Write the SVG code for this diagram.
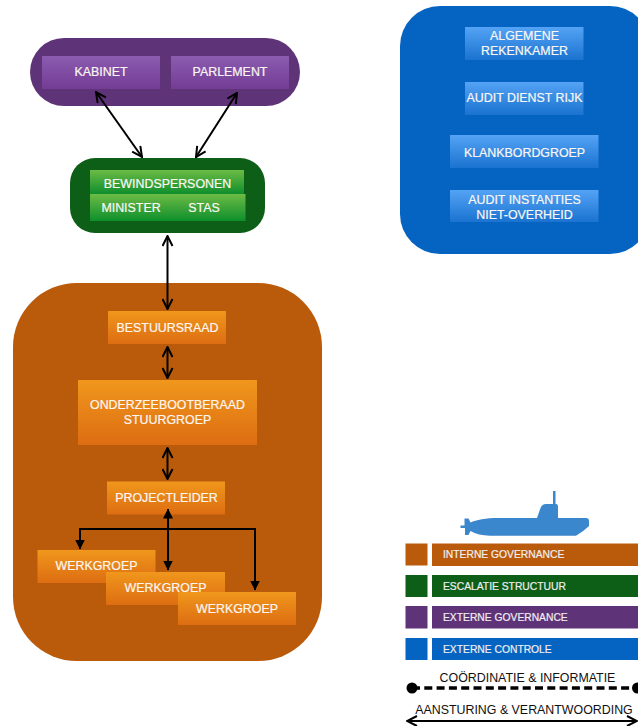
<svg xmlns="http://www.w3.org/2000/svg" width="638" height="726" viewBox="0 0 638 726">
<style>
text{font-family:"Liberation Sans",Arial,sans-serif;font-size:12.4px;fill:#fbf6f2;text-anchor:middle;stroke:#fbf6f2;stroke-width:.2px}
.l{font-size:10.300px;text-anchor:start;fill:#f0eef0;stroke:#f0eef0}
.k{font-size:12.400px;fill:#111;stroke:none}
.c{fill:none;stroke:#000;stroke-width:2}
.a{marker-start:url(#o);marker-end:url(#o)}
</style>
<defs>
<linearGradient id="go" x1="0" y1="0" x2="0" y2="1"><stop offset="0" stop-color="#f0971c"/><stop offset="1" stop-color="#dd6d12"/></linearGradient>
<linearGradient id="gg" x1="0" y1="0" x2="0" y2="1"><stop offset="0" stop-color="#6cbb45"/><stop offset="1" stop-color="#0e8f2c"/></linearGradient>
<linearGradient id="gp" x1="0" y1="0" x2="0" y2="1"><stop offset="0" stop-color="#8a5cb0"/><stop offset="1" stop-color="#743c94"/></linearGradient>
<linearGradient id="gb" x1="0" y1="0" x2="0" y2="1"><stop offset="0" stop-color="#54a3f5"/><stop offset="1" stop-color="#1a73d0"/></linearGradient>
<marker id="o" viewBox="0 0 12 12" refX="11" refY="6" markerWidth="12" markerHeight="12" markerUnits="userSpaceOnUse" orient="auto-start-reverse"><path d="M1 1L11 6L1 11" fill="none" stroke="#000" stroke-width="2"/></marker>
<marker id="f" viewBox="0 0 10 10" refX="9.5" refY="5" markerWidth="10" markerHeight="10" markerUnits="userSpaceOnUse" orient="auto-start-reverse"><path d="M0 0L10 5L0 10Z" fill="#000"/></marker>
</defs>
<g id="externe-governance"><rect x="30" y="38" width="270" height="68" rx="34" fill="#5f3378"/></g>
<g id="kabinet"><rect x="42" y="56" width="118" height="33" fill="url(#gp)"/><text x="101" y="76">KABINET</text></g>
<g id="parlement"><rect x="171" y="56" width="118" height="33" fill="url(#gp)"/><text x="230" y="76">PARLEMENT</text></g>
<g id="escalatie"><rect x="70" y="158" width="195" height="75" rx="25" fill="#0d5f18"/></g>
<g id="bewindspersonen"><rect x="90" y="170" width="154" height="24" fill="url(#gg)"/><text x="167.500" y="188">BEWINDSPERSONEN</text></g>
<g id="minister-stas"><rect x="90" y="194" width="155.500" height="27" fill="url(#gg)"/><text x="131" y="212">MINISTER</text><text x="204" y="212">STAS</text></g>
<g id="externe-controle"><rect x="400" y="6" width="250" height="248" rx="40" fill="#0563c1"/></g>
<g id="algemene-rekenkamer"><rect x="465" y="27" width="118.500" height="33" fill="url(#gb)"/><text x="524.500" y="40">ALGEMENE</text><text x="524.500" y="55">REKENKAMER</text></g>
<g id="audit-dienst-rijk"><rect x="465" y="82" width="118.500" height="33" fill="url(#gb)"/><text x="524.500" y="102">AUDIT DIENST RIJK</text></g>
<g id="klankbordgroep"><rect x="450" y="135" width="148.500" height="33" fill="url(#gb)"/><text x="524.500" y="157">KLANKBORDGROEP</text></g>
<g id="audit-instanties"><rect x="450" y="190" width="148.500" height="32" fill="url(#gb)"/><text x="524.500" y="204">AUDIT INSTANTIES</text><text x="524.500" y="219">NIET-OVERHEID</text></g>
<g id="interne-governance"><rect x="13" y="283" width="309" height="378" rx="64" fill="#ba5b0b"/></g>
<g id="bestuursraad"><rect x="108" y="311" width="118" height="33" fill="url(#go)"/><text x="167.500" y="332">BESTUURSRAAD</text></g>
<g id="onderzeebootberaad"><rect x="78" y="380" width="179" height="65" fill="url(#go)"/><text x="167.500" y="409">ONDERZEEBOOTBERAAD</text><text x="167.500" y="424">STUURGROEP</text></g>
<g id="projectleider"><rect x="107" y="481.500" width="118" height="33" fill="url(#go)"/><text x="166.500" y="502">PROJECTLEIDER</text></g>
<g id="werkgroep-1"><rect x="37.500" y="550" width="118" height="33" fill="url(#go)"/><text x="96.500" y="570">WERKGROEP</text></g>
<g id="werkgroep-2"><rect x="106" y="572" width="119" height="33" fill="url(#go)"/><text x="165.500" y="592">WERKGROEP</text></g>
<g id="werkgroep-3"><rect x="178" y="592" width="118" height="33" fill="url(#go)"/><text x="237" y="613">WERKGROEP</text></g>
<g id="connectors">
<path class="c a" d="M96 92L142 157"/>
<path class="c a" d="M237 93L196 157"/>
<path class="c a" d="M167.500 236V309"/>
<path class="c a" d="M167.500 347V378"/>
<path class="c a" d="M167.500 448V479"/>
<path class="c" d="M168 509V570" marker-start="url(#f)" marker-end="url(#f)"/>
<path class="c" d="M80 549V529H255V590" style="marker-start:url(#f);marker-end:url(#f)"/>
</g>
<path id="onderzeeboot" fill="#3a87cd" d="M460.500 525.500H464.500V518.500H468.500L470.500 522.500C476 520 486 518 498 518H537L540.500 508Q542 504 546 504H553V491H555.500V504H556Q558 504 558 507V518H586Q589 518 589 521V526Q584 531 576 535.700H490Q478 535.500 470.500 531L468.500 535H465V528H460.500Z"/>
<g id="legend-1"><rect x="405.500" y="543.500" width="22" height="22" fill="#ba5b0b"/><rect x="432" y="543.500" width="208" height="22.500" fill="#ba5b0b"/><text class="l" x="443" y="557.500">INTERNE GOVERNANCE</text></g>
<g id="legend-2"><rect x="405.500" y="575" width="22" height="22" fill="#0d5f18"/><rect x="432" y="575" width="208" height="22" fill="#0d5f18"/><text class="l" x="443" y="589.500">ESCALATIE STRUCTUUR</text></g>
<g id="legend-3"><rect x="405.500" y="606" width="22" height="22.500" fill="#5f3378"/><rect x="432" y="606" width="208" height="22.500" fill="#5f3378"/><text class="l" x="443" y="620.500">EXTERNE GOVERNANCE</text></g>
<g id="legend-4"><rect x="405.500" y="638" width="22" height="22" fill="#0563c1"/><rect x="432" y="638" width="208" height="22" fill="#0563c1"/><text class="l" x="443" y="652.500">EXTERNE CONTROLE</text></g>
<g id="legend-5"><path d="M412 688H636" stroke="#000" stroke-width="3.500" stroke-dasharray="8 4.300" fill="none"/><circle cx="412" cy="688" r="5.500" fill="#000"/><circle cx="637.500" cy="688" r="5.500" fill="#000"/><text class="k" x="527.500" y="682">COÖRDINATIE &amp; INFORMATIE</text></g>
<g id="legend-6"><path class="c a" d="M407 721H637"/><text class="k" x="524" y="714">AANSTURING &amp; VERANTWOORDING</text></g>
</svg>
